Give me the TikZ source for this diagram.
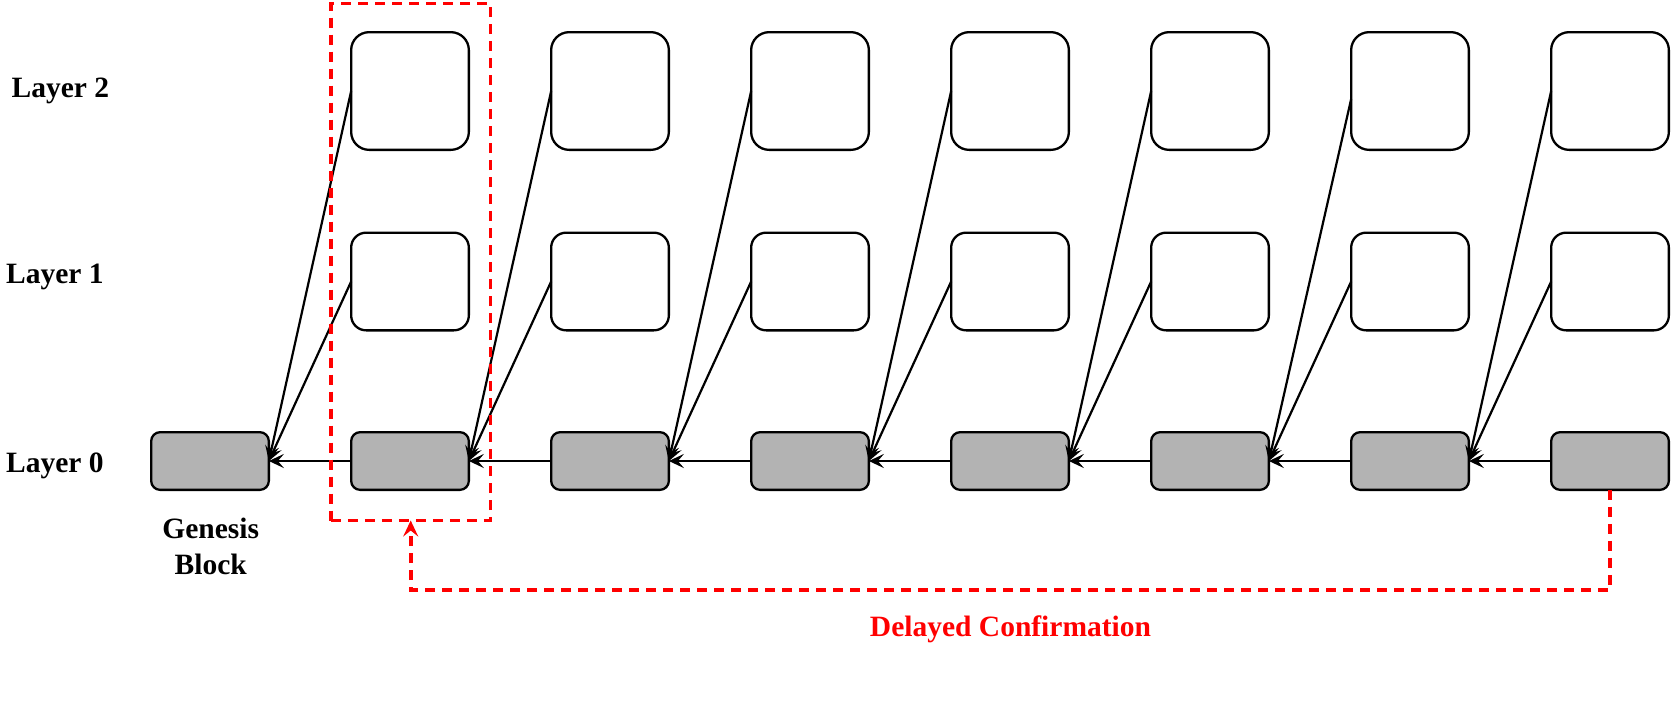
\documentclass[tikz,border=0pt]{standalone}
\usepackage{fontspec}
\setmainfont{Liberation Serif}
\usetikzlibrary{arrows.meta,calc}
\definecolor{blockgray}{RGB}{179,179,179}
\definecolor{delayred}{RGB}{255,0,0}
\begin{document}
\begin{tikzpicture}[x=1pt,y=-1pt,
  blk/.style={draw=black, line width=2.3pt, minimum width=117.7pt, inner sep=0pt, outer sep=0pt},
  l2box/.style={blk, minimum height=117.7pt, rounded corners=18pt, fill=white},
  l1box/.style={blk, minimum height=97.7pt, rounded corners=15pt, fill=white},
  l0box/.style={blk, minimum height=57.7pt, rounded corners=9pt, fill=blockgray},
  link/.style={draw=black, line width=2.2pt, -{Stealth[length=15pt,width=14pt,inset=6pt]}},
  lbl/.style={font=\fontsize{29.5}{35.8}\selectfont\bfseries, inner sep=0pt},
  delay/.style={draw=delayred, line width=3.6pt, dash pattern=on 10pt off 7pt}
]
\path[use as bounding box] (0,0) rectangle (1672,702);

% layer 0 blocks
\foreach \i in {0,...,7}
  \node[l0box] (b0-\i) at (210+200*\i, 461) {};
% layers 1 and 2
\foreach \i in {1,...,7} {
  \node[l2box] (b2-\i) at (210+200*\i, 91) {};
  \node[l1box] (b1-\i) at (210+200*\i, 281.5) {};
}

% connectors
\foreach \i/\j in {1/0,2/1,3/2,4/3,5/4,6/5,7/6} {
  \draw[link] (b0-\i.west) -- (b0-\j.east);
  \draw[link] (b1-\i.west) -- (b0-\j.east);
}
\foreach \i/\j in {1/0,2/1,3/2,4/3,5/4,7/6}
  \draw[link] (b2-\i.west) -- (b0-\j.east);
\draw[link] ([yshift=-8pt]b2-6.west) -- (b0-5.east);

% confirmation window
\node[delay, minimum width=159.5pt, minimum height=517pt, inner sep=0pt, outer sep=0pt] (confirm) at (410.7, 262) {};
\draw[delay, -{Stealth[length=16pt,width=15pt,inset=6pt]}] (b0-7.south) -- ++(0,100) -| (confirm.south);

% labels
\node[lbl, anchor=base west] (lay2) at (11.5, 97.6) {Layer 2};
\node[lbl, anchor=base west] (lay1) at (6, 283) {Layer 1};
\node[lbl, anchor=base west] (lay0) at (6, 472) {Layer 0};
\node[lbl, align=center] (gen) at (210.7, 546.5) {Genesis\\Block};
\node[lbl, anchor=base, text=delayred] (dc) at (1010.5, 636.7) {Delayed Confirmation};
\end{tikzpicture}
\end{document}
